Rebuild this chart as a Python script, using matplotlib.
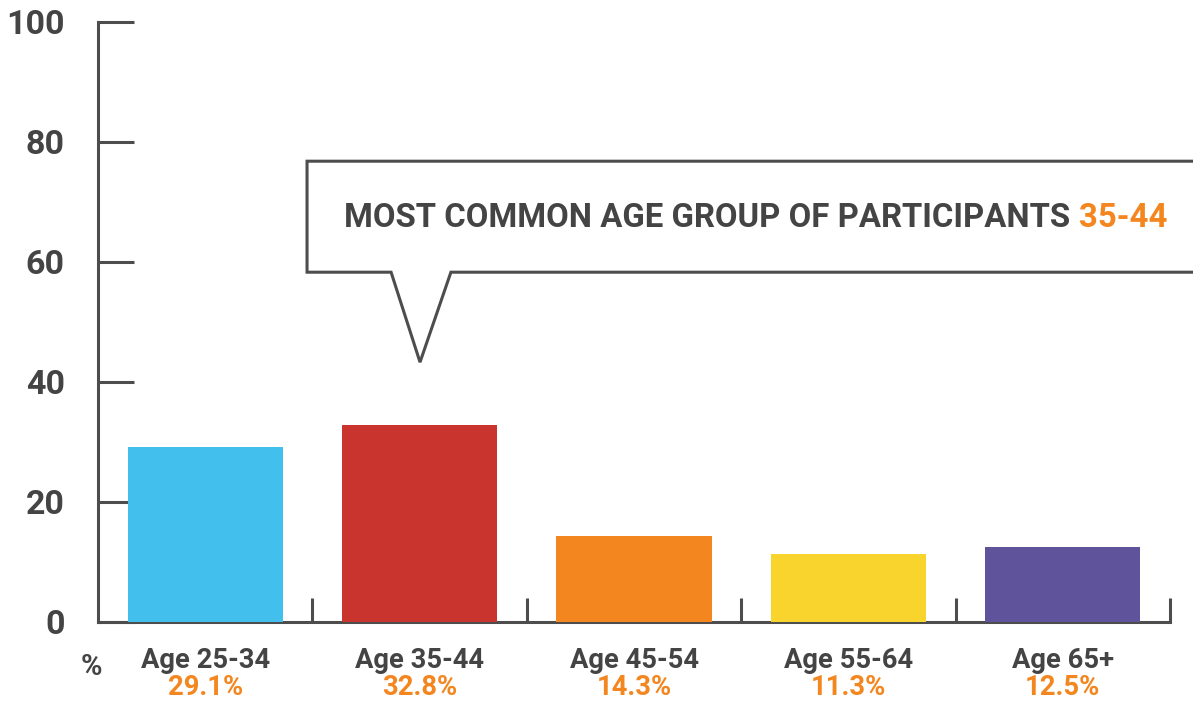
import matplotlib.pyplot as plt
from matplotlib.patches import Polygon

categories = ['Age 25-34', 'Age 35-44', 'Age 45-54', 'Age 55-64', 'Age 65+']
values = [29.1, 32.8, 14.3, 11.3, 12.5]
value_labels = ['29.1%', '32.8%', '14.3%', '11.3%', '12.5%']
colors = ['#42BFEC', '#C9342F', '#F4861F', '#F9D42D', '#5F539C']
yticks = [0, 20, 40, 60, 80, 100]

dark = '#444444'
orange = '#F4861F'
axis_col = '#4d4d4d'

plt.rcParams['font.family'] = ['Roboto', 'DejaVu Sans']

fig = plt.figure(figsize=(11.93, 7.02), dpi=100)
ax = fig.add_axes([98 / 1193, 80 / 702, 1072 / 1193, 600 / 702])

x = list(range(len(categories)))
ax.bar(x, values, width=0.723, color=colors, zorder=3)

ax.set_xlim(-0.5, 4.5)
ax.set_ylim(0, 100)
ax.set_yticks(yticks)
ax.set_yticklabels([str(v) for v in yticks], fontsize=24.5, fontweight='bold', color=dark)
ax.tick_params(axis='y', direction='in', length=26, width=2.2, color=axis_col, pad=24)
ax.set_xticks([])
ax.set_xticks([i + 0.5 for i in x], minor=True)
ax.tick_params(axis='x', which='minor', direction='in', length=17, width=2.2, color=axis_col)

for s in ['top', 'right']:
    ax.spines[s].set_visible(False)
for s in ['left', 'bottom']:
    ax.spines[s].set_color(axis_col)
    ax.spines[s].set_linewidth(2.2)

# category labels and percentages under the axis
for i, (cat, lab) in enumerate(zip(categories, value_labels)):
    ax.text(i, -6.4, cat, ha='center', va='center', fontsize=19.7,
            fontweight='bold', color=dark, clip_on=False)
    ax.text(i, -10.9, lab, ha='center', va='center', fontsize=19.7,
            fontweight='bold', color=orange, clip_on=False)
ax.text(-0.53, -7.5, '%', ha='center', va='center', fontsize=21,
        fontweight='bold', color=dark, clip_on=False)

# callout box
box = [(0.475, 76.8), (5.2, 76.8), (5.2, 58.3), (1.146, 58.3),
       (1.002, 43.3), (0.867, 58.3), (0.475, 58.3)]
ax.add_patch(Polygon(box, closed=True, facecolor='white', edgecolor=axis_col,
                     linewidth=2.2, clip_on=False, zorder=4))
t1 = ax.text(0.648, 67.3, 'MOST COMMON AGE GROUP OF PARTICIPANTS', ha='left',
             va='center', fontsize=23.7, fontweight='bold', color=dark, zorder=5)
ax.annotate('35-44', xy=(1, 0.5), xycoords=t1, xytext=(6, 0),
            textcoords='offset points', ha='left', va='center', fontsize=23.7,
            fontweight='bold', color=orange, zorder=5)

fig.savefig('out.png', dpi=100)
